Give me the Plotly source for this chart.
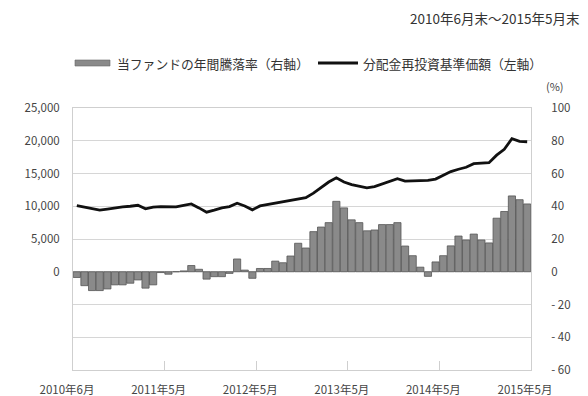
import plotly.graph_objects as go

# Monthly observations, 2010-06 .. 2015-05
months = [f"{y}-{m:02d}" for y in range(2010, 2016) for m in range(1, 13)]
months = months[5:5 + 60]

# 分配金再投資基準価額 (yen, left axis)
nav = [10100, 9900, 9650, 9400, 9550, 9750, 9900, 10000, 10150, 9600,
       9850, 9950, 9950, 9900, 10150, 10350, 9750, 9100, 9400, 9750,
       9950, 10450, 10050, 9450, 10050, 10250, 10400, 10650, 10900, 11000,
       11300, 12000, 12900, 13700, 14350, 13700, 13300, 13050, 12800, 13000,
       13400, 13800, 14200, 13850, 13850, 13900, 13950, 14150, 14700, 15300,
       15650, 15950, 16500, 16600, 16650, 17800, 18700, 20300, 19900, 19850]

# 当ファンドの年間騰落率 (%, right axis)
annual_return = [-3.5, -8.5, -11.5, -11.5, -10.5, -8, -8, -7, -5, -10,
                 -8, -0.5, -1.5, 0, 0.5, 3.8, 1.5, -4.5, -3, -3,
                 -1, 7.8, 1, -4, 2, 2, 6.5, 5.5, 9.6, 17.4,
                 14.5, 24.5, 27.3, 30, 43, 39, 31.7, 30, 25, 25.5,
                 28.8, 28.8, 30, 15.7, 9.8, 2.8, -2.8, 6, 9.8, 15.8,
                 21.8, 19.4, 23, 19.4, 17.6, 32.7, 36.8, 46.3, 44, 41.4]

x_labels = ["2010年6月", "2011年5月", "2012年5月", "2013年5月", "2014年5月", "2015年5月"]
left_ticks = [0, 5000, 10000, 15000, 20000, 25000]
right_ticks = [-60, -40, -20, 0, 20, 40, 60, 80, 100]

xi = list(range(len(months)))
FONT = "Noto Sans CJK JP"
TXT = "#444444"

fig = go.Figure()
fig.add_trace(go.Bar(
    x=xi, y=annual_return, yaxis="y",
    marker=dict(color="#8a8a8a", line=dict(color="#555555", width=0.8)),
    name="当ファンドの年間騰落率（右軸）",
))
fig.add_trace(go.Scatter(
    x=xi, y=nav, yaxis="y2", mode="lines",
    line=dict(color="#111111", width=2.8),
    name="分配金再投資基準価額（左軸）",
))

W, H = 588, 396
L, R, T, B = 73, 57, 108, 26
pw, ph = W - L - R, H - T - B


def px(xp):
    return (xp - L) / pw


def py(yp):
    return (H - B - yp) / ph


shapes = [
    # legend swatches
    dict(type="rect", xref="paper", yref="paper",
         x0=px(75), x1=px(110), y0=py(66), y1=py(60),
         fillcolor="#8a8a8a", line=dict(color="#666666", width=0.6)),
    dict(type="line", xref="paper", yref="paper",
         x0=px(318), x1=px(358), y0=py(63), y1=py(63),
         line=dict(color="#111111", width=3)),
]

annotations = [
    dict(text="2010年6月末～2015年5月末", xref="paper", yref="paper",
         x=px(408), y=py(18), xanchor="left", yanchor="middle", showarrow=False,
         font=dict(family=FONT, size=13.5, color="#333333")),
    dict(text="当ファンドの年間騰落率（右軸）", xref="paper", yref="paper",
         x=px(115), y=py(63), xanchor="left", yanchor="middle", showarrow=False,
         font=dict(family=FONT, size=12.8, color="#333333")),
    dict(text="分配金再投資基準価額（左軸）", xref="paper", yref="paper",
         x=px(361), y=py(63), xanchor="left", yanchor="middle", showarrow=False,
         font=dict(family=FONT, size=12.8, color="#333333")),
    dict(text="(%)", xref="paper", yref="paper",
         x=px(566), y=py(86), xanchor="right", yanchor="middle", showarrow=False,
         font=dict(family=FONT, size=11, color=TXT)),
]

fig.update_layout(
    width=W, height=H,
    margin=dict(l=L, r=R, t=T, b=B),
    paper_bgcolor="white", plot_bgcolor="white",
    showlegend=False, bargap=0.06,
    font=dict(family=FONT, size=12, color=TXT),
    shapes=shapes, annotations=annotations,
    xaxis=dict(
        range=[-0.5, 59.5], automargin=False,
        tickmode="array",
        tickvals=[-0.5 + 12 * k for k in range(6)],
        ticktext=x_labels,
        ticks="inside", ticklen=9, tickcolor="#cfcfcf",
        showgrid=False, zeroline=False,
        showline=True, linecolor="#cfcfcf", mirror=True,
        ticklabelstandoff=9, ticklabelshift=-6,
        tickfont=dict(size=11.5),
    ),
    yaxis=dict(
        side="right", range=[-60, 100], automargin=False,
        tickmode="array", tickvals=right_ticks,
        ticktext=[("- " + str(-v)) if v < 0 else str(v) for v in right_ticks],
        showgrid=True, gridcolor="#d6d6d6", gridwidth=1,
        zeroline=False, showline=True, linecolor="#cfcfcf",
        ticks="", ticklabelstandoff=17, tickfont=dict(size=11.5),
    ),
    yaxis2=dict(
        side="left", overlaying="y", range=[-15000, 25000], automargin=False,
        tickmode="array", tickvals=left_ticks,
        ticktext=[f"{v:,}" for v in left_ticks],
        showgrid=False, zeroline=False, showline=True, linecolor="#cfcfcf",
        ticks="", ticklabelstandoff=10, tickfont=dict(size=11.5),
    ),
)

fig.write_html("out.html")
